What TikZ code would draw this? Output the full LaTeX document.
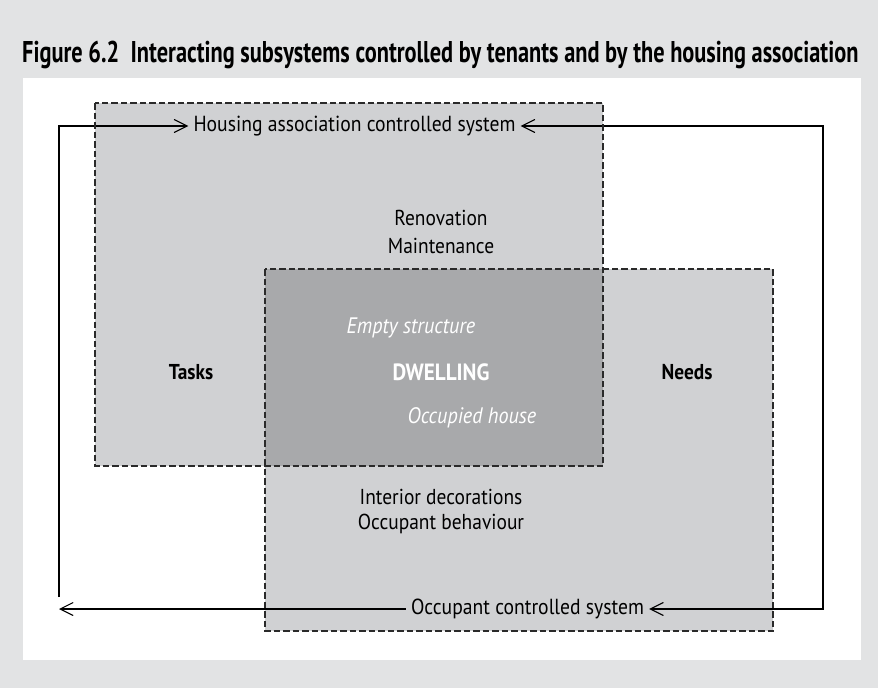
\documentclass[tikz,border=0pt]{standalone}
\usepackage{fontspec}
\setmainfont{PT Sans}[FakeStretch=0.9]
\newfontfamily\titlefont{PT Sans}[FakeStretch=0.745]
\usetikzlibrary{arrows.meta}
\definecolor{outerbg}{HTML}{E2E3E4}
\definecolor{boxfill}{HTML}{D0D1D3}
\definecolor{overlapfill}{HTML}{A8A9AB}
\definecolor{dashcol}{HTML}{2A2A2A}
\tikzset{
  openbarb/.tip={Straight Barb[length=13pt,width=13pt,line width=1.1pt]},
  sysbox/.style={draw=dashcol, line width=1.5pt, dash pattern=on 6.5pt off 3pt},
  loopline/.style={draw=black, line width=1.3pt},
  lbl/.style={font=\fontsize{21.6}{24}\selectfont, inner sep=0pt, align=center},
  blbl/.style={font=\fontsize{21.5}{24}\selectfont\bfseries, inner sep=0pt},
  wlbl/.style={font=\fontsize{22.4}{24}\selectfont\itshape, text=white, inner sep=0pt},
  sysname/.style={font=\fontsize{21.8}{24}\selectfont, inner xsep=5pt, inner ysep=0pt}
}
\begin{document}
\begin{tikzpicture}[x=1pt,y=-1pt]
\useasboundingbox (0,0) rectangle (878,688);
\fill[outerbg] (0,0) rectangle (878,688);
\fill[white] (23,78) rectangle (861,660);
\node[anchor=west, inner sep=0pt, font=\titlefont\fontsize{30}{32}\selectfont\bfseries] (title) at (22,55) {Figure 6.2\ \ Interacting subsystems controlled by tenants and by the housing association};
% boxes
\fill[boxfill] (95,103) rectangle (603,466);
\fill[boxfill] (265,269) rectangle (773,631);
\fill[overlapfill] (265,269) rectangle (603,466);
% loop
\node[sysname] (H) at (354.5,126) {Housing association controlled system};
\node[sysname] (O) at (527.5,609) {Occupant controlled system};
\coordinate (bl) at (59,609);
\coordinate (blt) at (59,597);
\coordinate (tl) at (59,126);
\coordinate (tr) at (823,126);
\coordinate (br) at (823,609);
\draw[loopline, -{openbarb}] (O.west) -- (bl);
\draw[loopline, -{openbarb}] (blt) -- (tl) -- (H.west);
\draw[loopline, {openbarb}-{openbarb}] (O.east) -- (br) -- (tr) -- (H.east);
% borders
\draw[sysbox] (95,103) rectangle (603,466);
\draw[sysbox] (265,269) rectangle (773,631);
% labels
\node[lbl] (reno) at (441,218) {Renovation};
\node[lbl] (maint) at (441,246) {Maintenance};
\node[blbl] (tasks) at (191,372) {Tasks};
\node[blbl] (needs) at (687,372) {Needs};
\node[blbl, text=white, font=\fontsize{23.5}{24}\selectfont\bfseries] (dw) at (441,372) {DWELLING};
\node[wlbl] (empty) at (411,328) {Empty structure};
\node[wlbl] (occ) at (472,418) {Occupied house};
\node[lbl] (int) at (441,497) {Interior decorations};
\node[lbl] (beh) at (441,524) {Occupant behaviour};
\end{tikzpicture}
\end{document}
